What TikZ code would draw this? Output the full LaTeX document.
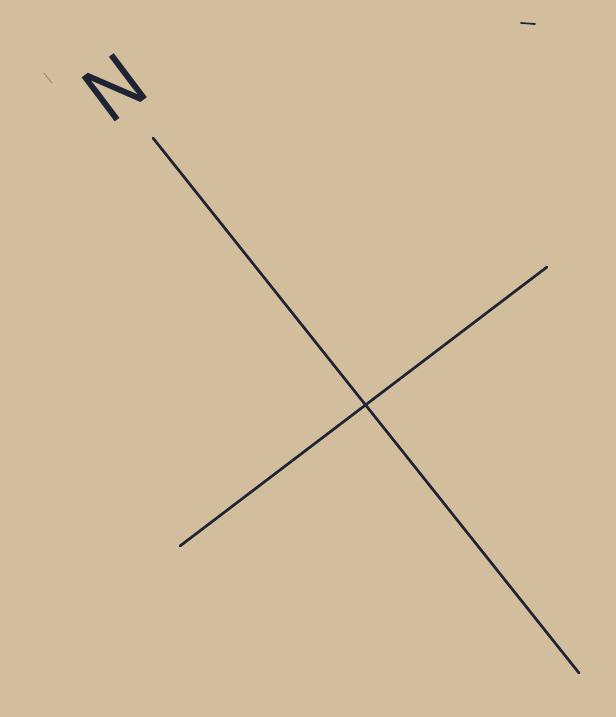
\documentclass[tikz,border=0pt]{standalone}
\usepackage{fontspec}
\setsansfont{Liberation Sans}
\usetikzlibrary{positioning}
\definecolor{paper}{RGB}{210,190,157}
\definecolor{ink}{RGB}{30,36,52}

\begin{document}
\begin{tikzpicture}[x=0.025cm,y=-0.025cm,
  axis/.style={draw=ink,line width=1.9pt,line cap=round},
  speck/.style={draw=ink,line width=1.2pt,line cap=round}]
  \fill[paper] (0,0) rectangle (616,717);
  \useasboundingbox (0,0) rectangle (616,717);
  % north arrow letter
  \node[font=\sffamily\fontsize{57}{57}\selectfont,text=ink,inner sep=0pt,
        rotate=37,xscale=0.9] (north) at (115,88) {N};
  % the two crossing lines
  \coordinate (n1) at (153,138);
  \coordinate (n2) at (579,673);
  \coordinate (w1) at (180,546);
  \coordinate (w2) at (547,267);
  \draw[axis] (n1) -- (n2);
  \draw[axis] (w1) -- (w2);
  % marks on the sheet
  \coordinate (t1) at (44,73);
  \coordinate (t2) at (52,83);
  \draw[speck,draw=ink!35!paper,line width=0.6pt] (t1) -- (t2);
  \coordinate (d1) at (521,23);
  \coordinate (d2) at (535,24);
  \draw[speck] (d1) -- (d2);
\end{tikzpicture}
\end{document}
